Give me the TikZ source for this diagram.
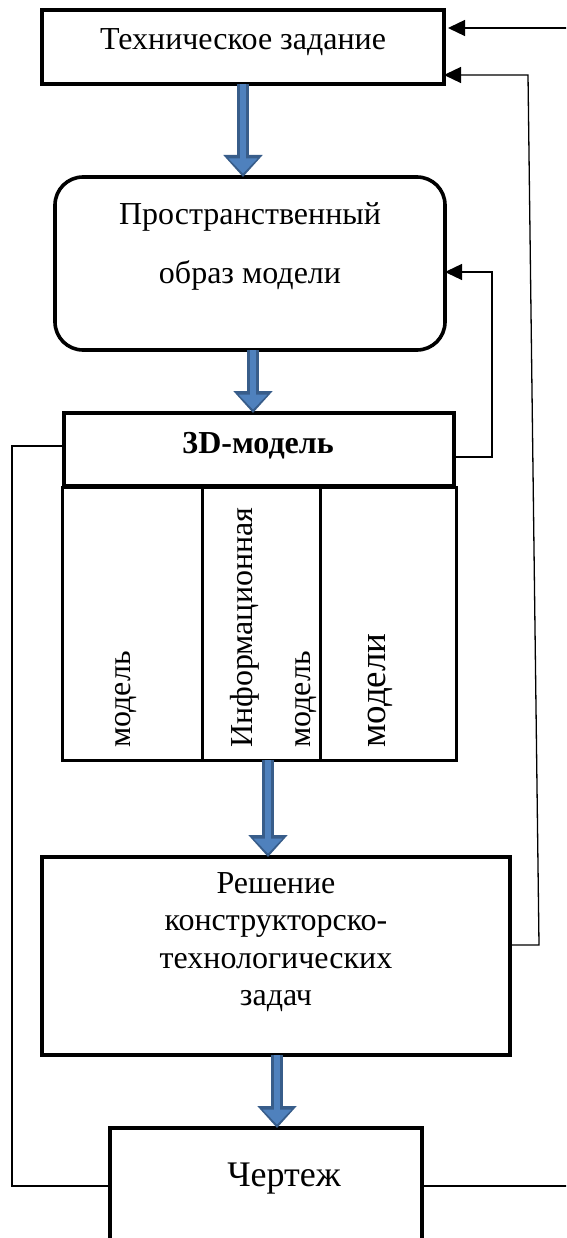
\documentclass[tikz,border=0pt]{standalone}
\usepackage{fontspec}
\setmainfont{Liberation Serif}
\usetikzlibrary{arrows.meta}
\definecolor{blockdark}{RGB}{56,93,138}
\definecolor{blocklight}{RGB}{79,129,189}

\tikzset{
  box/.style={draw, line width=3.6pt, inner sep=0pt, outer sep=0pt},
  colbox/.style={draw, line width=3pt, inner sep=0pt, outer sep=0pt},
  label/.style={inner sep=0pt, font=\fontsize{32}{37.5}\selectfont, align=center},
  vlabel/.style={label, rotate=90, anchor=base west},
  link/.style={draw, line width=1.3pt},
  back/.style={link, -{Triangle[width=16pt,length=17pt]}},
  flowout/.style={draw=blockdark, line width=12pt, -{Triangle[width=38pt,length=22pt]}},
  flowin/.style={draw=blocklight, line width=6pt, shorten >=3.5pt, -{Triangle[width=28pt,length=15pt]}}
}

\newcommand{\flow}[2]{%
  \draw[flowout] #1 -- #2;
  \draw[flowin] #1 -- #2;}

\begin{document}
\begin{tikzpicture}[x=1pt,y=-1pt]
\useasboundingbox (0,0) rectangle (566,1238);
\fill[white] (0,0) rectangle (566,1238);
\clip (0,0) rectangle (566,1238);

% main blocks
\node[box, minimum width=402pt, minimum height=74pt] (tz) at (243,47) {};
\node[label] (tztext) at (243,42) {Техническое задание};

\node[box, rounded corners=28pt, minimum width=390pt, minimum height=173pt] (obraz) at (250,263.5) {};
\node[label] (obraz1) at (250,217) {Пространственный};
\node[label] (obraz2) at (250,275) {образ модели};

\node[box, minimum width=390pt, minimum height=73pt] (model) at (259,449.5) {};
\node[label, font=\fontsize{32}{37.5}\selectfont\bfseries] (modeltext) at (258,446) {3D-модель};

% the three parts of the 3D model
\node[colbox, minimum width=140pt, minimum height=273pt] (col1) at (132,623.5) {};
\node[colbox, minimum width=118pt, minimum height=273pt] (col2) at (261,623.5) {};
\node[colbox, minimum width=136pt, minimum height=273pt] (col3) at (388,623.5) {};
\node[vlabel] (c1) at (130,748) {модель};
\node[vlabel] (c2a) at (252,748) {Информационная};
\node[vlabel] (c2b) at (310,748) {модель};
\node[vlabel, font=\fontsize{37}{42}\selectfont] (c3) at (385,748) {модели};

\node[box, minimum width=468pt, minimum height=198pt] (resh) at (276,956) {};
\node[label] (reshtext) at (276,942) {Решение\\конструкторско-\\технологических\\задач};

\node[box, minimum width=312pt, minimum height=120pt] (cher) at (266,1188) {};
\node[label, font=\fontsize{36}{42}\selectfont] (chertext) at (284,1179) {Чертеж};

% main flow
\flow{(tz.south)}{(obraz.north -| tz.south)}
\flow{(obraz.south -| 253,0)}{(model.north -| 253,0)}
\flow{(col2.south -| 268,0)}{(resh.north -| 268,0)}
\flow{(resh.south -| 277,0)}{(cher.north -| 277,0)}

% feedback lines
\draw[link] (model.west |- 0,446) -| (12,1186) -- (cher.west |- 0,1186);
\draw[back, shorten >=4pt] (cher.east |- 0,1186) -- (572,1186) -- (572,28) -- (tz.east |- 0,28);
\draw[back] (resh.east |- 0,945) -- (539,945) -- (528,75) -- (tz.east |- 0,75);
\draw[back] (model.east |- 0,457) -- (492,457) -- (492,272) -- (obraz.east |- 0,272);
\end{tikzpicture}
\end{document}
